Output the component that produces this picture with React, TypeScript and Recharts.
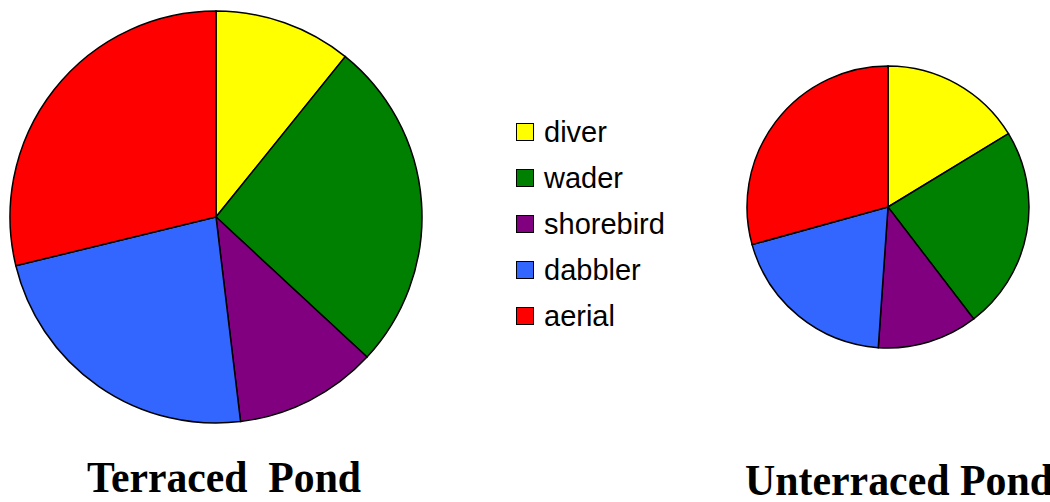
import { PieChart, Pie, Cell, Legend } from "recharts";

const categories = ["diver", "wader", "shorebird", "dabbler", "aerial"];
const terracedValues = [10.8, 26.1, 11.2, 23.1, 28.8];
const unterracedValues = [16.3, 23.3, 11.5, 19.6, 29.3];
const COLORS = ["#FFFF00", "#008000", "#800080", "#3366FF", "#FF0000"];

const titles = ["Terraced  Pond", "Unterraced Pond"];

const terracedData = categories.map((name, i) => ({ name, value: terracedValues[i] }));
const unterracedData = categories.map((name, i) => ({ name, value: unterracedValues[i] }));

function BirdLegend() {
  return (
    <div style={{ fontFamily: "'Liberation Sans', Arial, sans-serif", fontSize: 29 }}>
      {categories.map((c, i) => (
        <div key={c} style={{ display: "flex", alignItems: "center", height: 46 }}>
          <span
            style={{
              display: "inline-block",
              width: 16,
              height: 16,
              background: COLORS[i],
              border: "1.5px solid #000",
              marginRight: 10,
            }}
          />
          <span style={{ color: "#000" }}>{c}</span>
        </div>
      ))}
    </div>
  );
}

export default function App() {
  return (
    <div style={{ position: "absolute", left: 0, top: 0, width: 1050, height: 502, background: "#fff", overflow: "hidden" }}>
      <PieChart width={1050} height={502} margin={{ top: 0, right: 0, bottom: 0, left: 0 }}>
        <Pie
          data={terracedData}
          dataKey="value"
          nameKey="name"
          cx={216}
          cy={217}
          outerRadius={206}
          startAngle={90}
          endAngle={-270}
          stroke="#000"
          strokeWidth={1.5}
          isAnimationActive={false}
        >
          {terracedData.map((d, i) => (
            <Cell key={`t-${d.name}`} fill={COLORS[i]} />
          ))}
        </Pie>
        <Pie
          data={unterracedData}
          dataKey="value"
          nameKey="name"
          cx={888}
          cy={207}
          outerRadius={141}
          startAngle={90}
          endAngle={-270}
          stroke="#000"
          strokeWidth={1.5}
          isAnimationActive={false}
        >
          {unterracedData.map((d, i) => (
            <Cell key={`u-${d.name}`} fill={COLORS[i]} />
          ))}
        </Pie>
        <Legend
          content={() => <BirdLegend />}
          wrapperStyle={{ position: "absolute", left: 516, top: 109, width: 200 }}
        />
      </PieChart>
      <svg width={1050} height={502} style={{ position: "absolute", left: 0, top: 0, pointerEvents: "none" }}>
        <text
          x={87}
          y={492}
          fontFamily="'Liberation Serif', 'Times New Roman', serif"
          fontWeight="bold"
          fontSize={44}
          textLength={274}
          lengthAdjust="spacingAndGlyphs"
          style={{ whiteSpace: "pre" }}
          fill="#000"
        >
          {titles[0]}
        </text>
        <text
          x={745}
          y={495}
          fontFamily="'Liberation Serif', 'Times New Roman', serif"
          fontWeight="bold"
          fontSize={44}
          textLength={308}
          lengthAdjust="spacingAndGlyphs"
          fill="#000"
        >
          {titles[1]}
        </text>
      </svg>
    </div>
  );
}
